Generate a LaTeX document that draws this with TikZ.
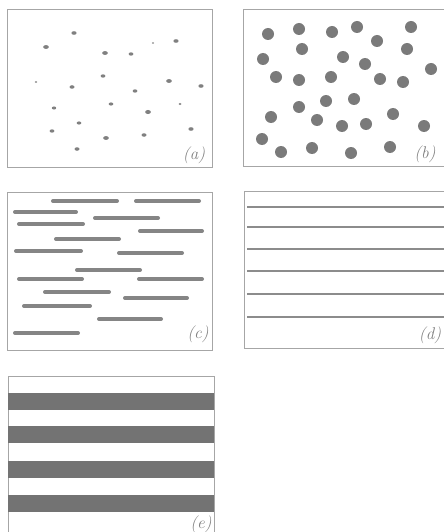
\documentclass[tikz,border=0pt]{standalone}
\begin{document}
\begin{tikzpicture}[x=1pt,y=-1pt,
  frame/.style={draw=black!35,line width=0.6pt},
  speck/.style={fill=black!50},
  ball/.style={fill=black!52},
  bar/.style={draw=black!48,line width=4pt,line cap=round},
  fibre/.style={draw=black!45,line width=2.6pt},
  stripe/.style={fill=black!55},
  lbl/.style={text=black!50,font=\itshape\fontsize{17}{17}\selectfont,inner sep=0pt}]
\useasboundingbox (0,0) rectangle (444,532);
% (a)
\draw[frame] (7,9) rectangle (212,167);
\foreach \x/\y/\r in {74/33/2.6,46/47/2.8,105/53/2.8,131/54/2.4,153/43/1.2,176/41/2.6,
  36/82/1.3,72/87/2.5,103/76/2.4,135/91/2.4,169/81/2.8,201/86/2.6,
  54/108/2.2,111/104/2.3,148/112/2.9,180/104/1.5,
  79/123/2.3,52/131/2.4,106/138/2.8,144/135/2.5,191/129/2.6,77/149/2.5}
  \fill[speck] (\x,\y) ellipse ({\r} and {0.7*\r});
\node[lbl] (la) at (194,155) {(a)};
% (b)
\draw[frame] (444,9) -- (243,9) -- (243,166) -- (444,166);
\foreach \x/\y in {268/34,299/29,332/32,357/27,411/27,377/41,302/49,407/49,
  263/59,343/57,365/64,431/69,276/77,299/80,331/77,380/79,403/82,
  326/101,354/99,299/107,393/114,271/117,317/120,342/126,366/124,424/126,
  262/139,281/152,312/148,351/153,390/147}
  \fill[ball] (\x,\y) circle (6);
\node[lbl] (lb) at (425,154) {(b)};
% (c)
\draw[frame] (7,192) rectangle (212,350);
\foreach \a/\b/\y in {53/117/201,136/199/201,15/76/212,95/158/218,19/83/224,
  140/202/231,56/119/239,16/81/251,119/182/253,77/140/270,19/82/279,
  139/202/279,45/109/292,125/187/298,24/90/306,99/161/319,15/78/333}
  \draw[bar] (\a,\y) -- (\b,\y);
\node[lbl] (lc) at (198,334) {(c)};
% (d)
\draw[frame] (444,191) -- (244,191) -- (244,348) -- (444,348);
\foreach \y in {207,227,249,271,294,317}
  \draw[fibre] (247,\y) -- (444,\y);
\node[lbl] (ld) at (430,335) {(d)};
% (e)
\draw[frame] (8,532) -- (8,376) -- (214,376) -- (214,532);
\foreach \a/\b in {393/410,426/443,461/478,495/512}
  \fill[stripe] (8,\a) rectangle (214,\b);
\node[lbl] (le) at (201,524) {(e)};
\end{tikzpicture}
\end{document}
